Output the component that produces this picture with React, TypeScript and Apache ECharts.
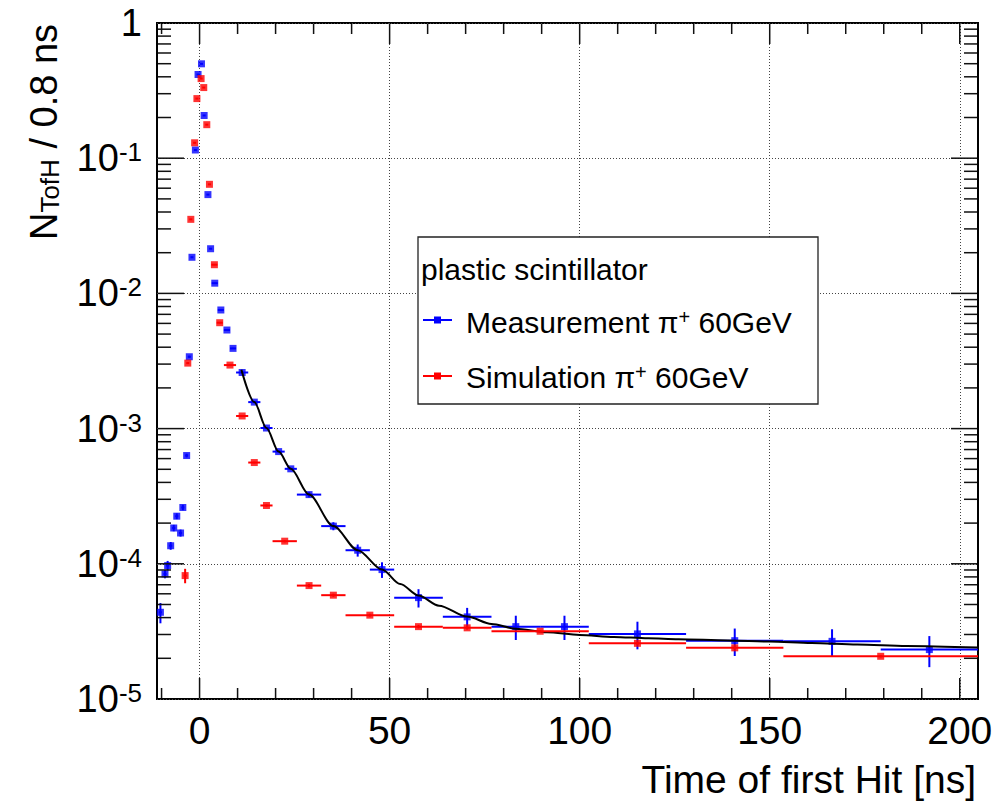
import React, { useEffect, useRef } from 'react';
import * as echarts from 'echarts';

const X_MIN = -11.2;
const X_MAX = 204.8;
const Y_MIN = 1e-5;
const Y_MAX = 1;

const GRID_LEFT = 157;
const GRID_RIGHT = 28;
const GRID_TOP = 23;
const GRID_BOTTOM = 106;
const WIDTH = 1006;
const HEIGHT = 805;

const xLabelValues = [0, 50, 100, 150, 200];
const xMinorTickValues = [-10, 10, 20, 30, 40, 60, 70, 80, 90, 110, 120, 130, 140, 160, 170, 180, 190];
const yDecadeValues = [1e-5, 1e-4, 1e-3, 1e-2, 1e-1, 1];
const yMinorTickValues = [
  2e-5, 3e-5, 4e-5, 5e-5, 6e-5, 7e-5, 8e-5, 9e-5,
  2e-4, 3e-4, 4e-4, 5e-4, 6e-4, 7e-4, 8e-4, 9e-4,
  2e-3, 3e-3, 4e-3, 5e-3, 6e-3, 7e-3, 8e-3, 9e-3,
  2e-2, 3e-2, 4e-2, 5e-2, 6e-2, 7e-2, 8e-2, 9e-2,
  2e-1, 3e-1, 4e-1, 5e-1, 6e-1, 7e-1, 8e-1, 9e-1,
];

// Measurement (blue)
const blueX = [-10.3, -9.1, -8.4, -7.6, -6.8, -6.0, -5.0, -4.4, -3.4, -2.7, -2.0, -1.1, -0.4, 0.5, 1.2, 2.2, 2.9,
  4.0, 5.6, 7.2, 8.8, 11.2, 14.4, 17.6, 20.8, 24.0, 28.8, 35.2, 41.6, 48.0, 57.6, 70.4, 83.2, 96.0, 115.2, 140.8, 166.4, 192.0];
const blueY = [4.38e-5, 8.41e-5, 9.7e-5, 1.36e-4, 1.84e-4, 2.25e-4, 1.69e-4, 2.61e-4, 6.32e-4, 3.4e-3, 0.0185, 0.115, 0.416, 0.499, 0.207, 0.0538, 0.0214,
  0.0119, 0.00754, 0.00536, 0.00392, 0.0026, 0.00157, 0.00101, 6.76e-4, 5.04e-4, 3.25e-4, 1.9e-4, 1.26e-4, 9.06e-5, 5.62e-5, 4.05e-5, 3.43e-5, 3.43e-5, 3.03e-5, 2.7e-5, 2.67e-5, 2.32e-5];
const blueXErr = [0.4, 0.4, 0.4, 0.4, 0.4, 0.4, 0.4, 0.4, 0.4, 0.4, 0.4, 0.4, 0.4, 0.4, 0.4, 0.4, 0.4,
  0.8, 0.8, 0.8, 0.8, 1.6, 1.6, 1.6, 1.6, 1.6, 3.2, 3.2, 3.2, 3.2, 6.4, 6.4, 6.4, 6.4, 12.8, 12.8, 12.8, 12.8];
const blueYErr = [0.75e-5, 0.6e-5, 0.8e-5, 0.9e-5, 1.0e-5, 1.1e-5, 1.0e-5, 1.2e-5, 2.0e-5, 6e-5, 1.4e-4, 3e-4, 6e-4, 7e-4, 4e-4, 2e-4, 1.2e-4,
  6e-5, 5e-5, 4e-5, 3.5e-5, 2e-5, 1.5e-5, 1.2e-5, 1e-5, 9e-6, 1.5e-5, 1.3e-5, 1.3e-5, 1.2e-5, 0.87e-5, 0.67e-5, 0.7e-5, 0.7e-5, 0.7e-5, 0.62e-5, 0.61e-5, 0.6e-5];

// Simulation (red)
const redX = [-3.8, -3.1, -2.3, -1.3, -0.7, 0.4, 1.1, 1.9, 2.6, 3.9, 5.3, 8.0, 11.2, 14.4, 17.6, 22.4, 28.8, 35.2, 44.8, 57.6, 70.4, 89.6, 115.2, 140.8, 179.2];
const redY = [8.18e-5, 3.05e-3, 0.0353, 0.13, 0.276, 0.388, 0.333, 0.177, 0.0641, 0.0163, 0.00607, 0.00295, 0.00124, 5.61e-4, 2.7e-4, 1.47e-4, 6.9e-5, 5.86e-5, 4.17e-5, 3.43e-5, 3.36e-5, 3.17e-5, 2.58e-5, 2.39e-5, 2.07e-5];
const redXErr = [0.4, 0.4, 0.4, 0.4, 0.4, 0.4, 0.4, 0.4, 0.4, 0.8, 0.8, 1.6, 1.6, 1.6, 1.6, 3.2, 3.2, 3.2, 6.4, 6.4, 6.4, 12.8, 12.8, 12.8, 25.6];
const redYErr = [1.0e-5, 4e-5, 2e-4, 5e-4, 8e-4, 1e-3, 9e-4, 6e-4, 3e-4, 1e-4, 5e-5, 2e-5, 1.2e-5, 8e-6, 5e-6, 3e-6, 2e-6, 1.5e-6, 1e-6, 1e-6, 1e-6, 0.6e-6, 0.6e-6, 0.6e-6, 0.4e-6];

// Fit curve
const fitX = [11.0, 14.4, 17.6, 20.8, 24.0, 28.8, 35.2, 41.6, 48.0, 52.8, 57.6, 63.0, 70.4, 76.8, 83.2, 91.4, 100, 109, 118, 126, 139, 150, 161, 173, 186, 204.8];
const fitY = [2.72e-3, 1.57e-3, 1.01e-3, 6.76e-4, 5.04e-4, 3.25e-4, 1.9e-4, 1.26e-4, 9.06e-5, 7.08e-5, 5.82e-5, 4.9e-5, 4.07e-5, 3.59e-5, 3.31e-5, 3.12e-5, 2.98e-5, 2.88e-5, 2.81e-5, 2.77e-5, 2.71e-5, 2.66e-5, 2.6e-5, 2.53e-5, 2.47e-5, 2.4e-5];

const FONT = "'Liberation Sans', Arial, Helvetica, sans-serif";
const BLUE = '#0000ff';
const RED = '#ff0000';

function errorRenderer(color: string) {
  return (params: any, api: any) => {
    const x = api.value(0);
    const y = api.value(1);
    const xe = api.value(2);
    const ye = api.value(3);
    const l = api.coord([x - xe, y]);
    const r = api.coord([x + xe, y]);
    const t = api.coord([x, y + ye]);
    const b = api.coord([x, Math.max(y - ye, 1e-8)]);
    return {
      type: 'group',
      children: [
        { type: 'line', shape: { x1: l[0], y1: l[1], x2: r[0], y2: r[1] }, style: { stroke: color, lineWidth: 2 } },
        { type: 'line', shape: { x1: t[0], y1: t[1], x2: b[0], y2: b[1] }, style: { stroke: color, lineWidth: 2 } },
      ],
    };
  };
}

function baseGraphics(): any[] {
  return [
    {
      id: 'xtitle', type: 'text', x: 976, y: 779, z: 20,
      style: { text: 'Time of first Hit [ns]', fontSize: 39, fontFamily: FONT, fill: '#000', align: 'right', verticalAlign: 'middle' },
    },
    {
      id: 'ytitle', type: 'text', x: 44, y: 132, rotation: Math.PI / 2, z: 20,
      style: {
        text: '{n|N}{sub|TofH}{n| / 0.8 ns}', align: 'center', verticalAlign: 'middle',
        rich: {
          n: { fontSize: 38, fontFamily: FONT, fill: '#000', lineHeight: 38 },
          sub: { fontSize: 26, fontFamily: FONT, fill: '#000', lineHeight: 24, verticalAlign: 'bottom' },
        },
      },
    },
    { id: 'lgbox', type: 'rect', z: 30, shape: { x: 418, y: 237, width: 400, height: 167 }, style: { fill: '#fff', stroke: '#222', lineWidth: 1.3 } },
    { id: 'lgt0', type: 'text', z: 31, x: 421, y: 269, style: { text: 'plastic scintillator', fontSize: 30, fontFamily: FONT, fill: '#000', verticalAlign: 'middle' } },
    { id: 'lgl1', type: 'line', z: 31, shape: { x1: 423, y1: 320, x2: 452, y2: 320 }, style: { stroke: BLUE, lineWidth: 2 } },
    { id: 'lgm1', type: 'rect', z: 31, shape: { x: 434, y: 316.5, width: 7, height: 7 }, style: { fill: BLUE } },
    {
      id: 'lgt1', type: 'text', z: 31, x: 466, y: 322, style: {
        text: '{t|Measurement π}{s|+}{t| 60GeV}', verticalAlign: 'middle',
        rich: {
          t: { fontSize: 30, fontFamily: FONT, fill: '#000', lineHeight: 30 },
          s: { fontSize: 20, fontFamily: FONT, fill: '#000', lineHeight: 18, verticalAlign: 'top' },
        },
      },
    },
    { id: 'lgl2', type: 'line', z: 31, shape: { x1: 423, y1: 376, x2: 452, y2: 376 }, style: { stroke: RED, lineWidth: 2 } },
    { id: 'lgm2', type: 'rect', z: 31, shape: { x: 434, y: 372.5, width: 7, height: 7 }, style: { fill: RED } },
    {
      id: 'lgt2', type: 'text', z: 31, x: 466, y: 377, style: {
        text: '{t|Simulation π}{s|+}{t| 60GeV}', verticalAlign: 'middle',
        rich: {
          t: { fontSize: 30, fontFamily: FONT, fill: '#000', lineHeight: 30 },
          s: { fontSize: 20, fontFamily: FONT, fill: '#000', lineHeight: 18, verticalAlign: 'top' },
        },
      },
    },
  ];
}

export default function App() {
  const ref = useRef<HTMLDivElement>(null);
  useEffect(() => {
    const chart = echarts.init(ref.current!, null, { renderer: 'svg' });
    const blueData = blueX.map((x, i) => [x, blueY[i], blueXErr[i], blueYErr[i]]);
    const redData = redX.map((x, i) => [x, redY[i], redXErr[i], redYErr[i]]);
    const fitData = fitX.map((x, i) => [x, fitY[i]]);

    const option: any = {
      animation: false,
      grid: {
        left: GRID_LEFT, right: GRID_RIGHT, top: GRID_TOP, bottom: GRID_BOTTOM,
        show: true, borderColor: '#000', borderWidth: 2,
      },
      xAxis: {
        type: 'value', position: 'bottom', min: X_MIN, max: X_MAX,
        axisLine: { show: false, onZero: false },
        axisTick: { show: false, customValues: xLabelValues },
        axisLabel: { customValues: xLabelValues, fontSize: 39, color: '#000', fontFamily: FONT, margin: 12 },
        splitLine: { show: true, lineStyle: { type: [1, 2], color: '#444', width: 1 } },
      },
      yAxis: {
        type: 'log', logBase: 10, min: Y_MIN, max: Y_MAX, position: 'left',
        axisLine: { show: false, onZero: false },
        axisTick: { show: false },
        axisLabel: {
          margin: 15,
          formatter: (v: number) => {
            const e = Math.round(Math.log10(v));
            if (e === 0) return '{b|1}';
            return '{b|10}{s|' + e + '}';
          },
          rich: {
            b: { fontSize: 38, fontFamily: FONT, color: '#000', lineHeight: 38 },
            s: { fontSize: 26, fontFamily: FONT, color: '#000', lineHeight: 22, verticalAlign: 'top' },
          },
        },
        splitLine: { show: true, lineStyle: { type: [1, 2], color: '#444', width: 1 } },
      },
      series: [
        {
          type: 'custom', name: 'Measurement errors', data: blueData, encode: { x: 0, y: 1 }, z: 6,
          renderItem: errorRenderer(BLUE),
        },
        {
          type: 'scatter', name: 'Measurement', data: blueData.map((d) => [d[0], d[1]]),
          symbol: 'rect', symbolSize: 7, itemStyle: { color: BLUE }, z: 7,
        },
        {
          type: 'line', name: 'Fit', data: fitData, showSymbol: false, smooth: 0.3, smoothMonotone: 'x',
          lineStyle: { color: '#000', width: 2 }, z: 8,
        },
        {
          type: 'custom', name: 'Simulation errors', data: redData, encode: { x: 0, y: 1 }, z: 9,
          renderItem: errorRenderer(RED),
        },
        {
          type: 'scatter', name: 'Simulation', data: redData.map((d) => [d[0], d[1]]),
          symbol: 'rect', symbolSize: 7, itemStyle: { color: RED }, z: 10,
        },
      ],
      graphic: baseGraphics(),
    };
    chart.setOption(option);

    // Tick marks, drawn inward from the frame on all four sides.
    // Positions along each axis come from the chart's own scales (interior points only).
    const left = GRID_LEFT;
    const right = WIDTH - GRID_RIGHT;
    const top = GRID_TOP;
    const bottom = HEIGHT - GRID_BOTTOM;
    const ticks: any[] = [];
    let n = 0;
    const rect = (x: number, y: number, w: number, h: number) => {
      if (![x, y, w, h].every((q) => typeof q === 'number' && isFinite(q))) return;
      ticks.push({
        id: 'tk' + n++, type: 'rect', z: 100, silent: true,
        shape: { x, y, width: w, height: h }, style: { fill: '#111' },
      });
    };
    const xPos = (v: number) => (chart.convertToPixel({ xAxisIndex: 0 }, v) as number);
    const yPos = (v: number) => (chart.convertToPixel({ yAxisIndex: 0 }, v) as number);
    const addX = (v: number, len: number) => {
      const x = xPos(v);
      rect(x - 0.75, bottom - 1 - len, 1.5, len);
      rect(x - 0.75, top + 1, 1.5, len);
    };
    const addY = (v: number, len: number) => {
      const y = yPos(v);
      rect(left + 1, y - 0.75, len, 1.5);
      rect(right - 1 - len, y - 0.75, len, 1.5);
    };
    xLabelValues.forEach((v) => addX(v, 20));
    xMinorTickValues.forEach((v) => addX(v, 10));
    yDecadeValues.slice(1, -1).forEach((v) => addY(v, 26));
    yMinorTickValues.forEach((v) => addY(v, 13));
    chart.setOption({ graphic: [...baseGraphics(), ...ticks] });
    return () => chart.dispose();
  }, []);
  return (
    <div
      ref={ref}
      style={{ position: 'fixed', left: 0, top: 0, width: WIDTH, height: HEIGHT, background: '#fff' }}
    />
  );
}
